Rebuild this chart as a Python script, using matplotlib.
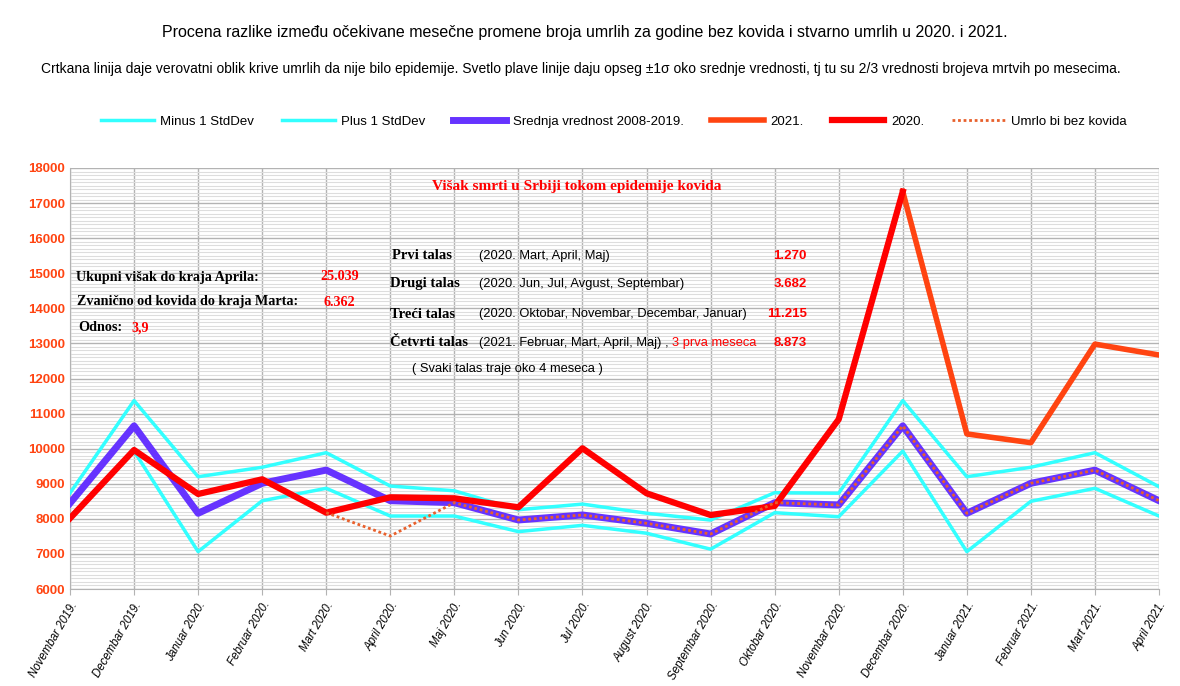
import numpy as np
import matplotlib.pyplot as plt
from matplotlib.ticker import MultipleLocator

# meseci
months = ['Novembar 2019.', 'Decembar 2019.', 'Januar 2020.', 'Februar 2020.',
          'Mart 2020.', 'April 2020.', 'Maj 2020.', 'Jun 2020.', 'Jul 2020.',
          'August 2020.', 'Septembar 2020.', 'Oktobar 2020.', 'Novembar 2020.',
          'Decembar 2020.', 'Januar 2021.', 'Februar 2021.', 'Mart 2021.', 'April 2021.']

minus1 = [8060, 9930, 7065, 8515, 8870, 8080, 8080, 7635, 7815, 7590, 7135, 8175,
          8060, 9930, 7065, 8500, 8870, 8080]
plus1 = [8735, 11370, 9200, 9470, 9885, 8935, 8800, 8260, 8420, 8160, 7965, 8745,
         8730, 11370, 9200, 9470, 9885, 8915]
mean = [8445, 10650, 8158, 9013, 9390, 8517, 8460, 7967, 8110, 7873, 7568, 8460,
        8395, 10650, 8158, 9013, 9388, 8517]
y2021 = [np.nan]*13 + [17326, 10420, 10170, 12980, 12670]
y2020 = [8015, 9962, 8708, 9127, 8175, 8614, 8585, 8329, 10011, 8728, 8109, 8366,
         10837, 17326] + [np.nan]*4
bez_kovida = [np.nan]*4 + [8175, 7510, 8460, 7967, 8110, 7873, 7568, 8460,
                           8395, 10650, 8158, 9013, 9388, 8517]

x = np.arange(len(months))

W, H = 1180, 686
fig = plt.figure(figsize=(W/100, H/100), dpi=100)
ax = fig.add_axes([70/W, 1-589/H, (1159-70)/W, (589-168)/H])

ax.plot(x, minus1, color='#33ffff', lw=2.5, label='Minus 1 StdDev', zorder=3)
ax.plot(x, plus1, color='#33ffff', lw=2.5, label='Plus 1 StdDev', zorder=3)
ax.plot(x, mean, color='#6633ff', lw=5, label='Srednja vrednost 2008-2019.', zorder=4)
ax.plot(x, y2021, color='#ff4411', lw=4, label='2021.', zorder=5)
ax.plot(x, y2020, color='#ff0000', lw=4.5, label='2020.', zorder=5)
ax.plot(x, bez_kovida, color='#e8602c', lw=2, ls=(0, (1, 1)),
        label='Umrlo bi bez kovida', zorder=6)

ax.set_xlim(0, 17)
ax.set_ylim(6000, 18000)
ax.yaxis.set_major_locator(MultipleLocator(1000))
ax.yaxis.set_minor_locator(MultipleLocator(100))
ax.grid(which='major', axis='y', color='#b3b3b3', lw=1, zorder=0)
ax.grid(which='minor', axis='y', color='#dddddd', lw=0.8, zorder=0)
ax.grid(which='major', axis='x', color='#b3b3b3', lw=1, zorder=0)
ax.set_axisbelow(True)
for s in ['top', 'right']:
    ax.spines[s].set_visible(False)
for s in ['left', 'bottom']:
    ax.spines[s].set_color('#b3b3b3')
ax.set_xticks(x)
ax.set_xticklabels(months, rotation=60, ha='right', rotation_mode='anchor',
                   fontstyle='italic', fontsize=8.3, family='Liberation Sans')
ax.tick_params(axis='x', length=4, color='#b3b3b3')
ax.tick_params(axis='y', which='both', length=0, labelcolor='#ff4411',
               labelsize=9.5)
for t in ax.get_yticklabels():
    t.set_fontweight('bold')
    t.set_family('Liberation Sans')

fig.legend(loc='center', bbox_to_anchor=(614/W, 1-122/H), ncol=6, frameon=False,
           handlelength=4.0, columnspacing=2.1, handletextpad=0.5,
           prop={'family': 'Liberation Sans', 'size': 9.5})

def px(xp, yp):
    return xp/W, 1-yp/H

# naslovi
fig.text(*px(585, 32), 'Procena razlike između očekivane mesečne promene broja umrlih za godine bez kovida i stvarno umrlih u 2020. i 2021.',
         ha='center', va='center', fontsize=11.5, family='Liberation Sans')
fig.text(*px(581, 69), 'Crtkana linija daje verovatni oblik krive umrlih da nije bilo epidemije. Svetlo plave linije daju opseg ±1σ oko srednje vrednosti, tj tu su 2/3 vrednosti brojeva mrtvih po mesecima.',
         ha='center', va='center', fontsize=10, family='Liberation Sans')

serif = dict(family='Liberation Serif', fontweight='bold', va='center')
sans = dict(family='Liberation Sans', va='center')

fig.text(*px(577, 186), 'Višak smrti u Srbiji tokom epidemije kovida', ha='center',
         color='#ff0000', fontsize=11, **serif)

fig.text(*px(76, 277), 'Ukupni višak do kraja Aprila:', fontsize=10.2, **serif)
fig.text(*px(320, 277), '25.039', color='#ff0000', fontsize=10.2, **serif)
fig.text(*px(77, 302), 'Zvanično od kovida do kraja Marta:', fontsize=10.2, **serif)
fig.text(*px(324, 302), '6.362', color='#ff0000', fontsize=10.2, **serif)
fig.text(*px(78, 328), 'Odnos:', fontsize=10.2, **serif)
fig.text(*px(131, 328), '3,9', color='#ff0000', fontsize=10.2, **serif)

talasi = ['Prvi talas', 'Drugi talas', 'Treći talas', 'Četvrti talas']
opisi = ['(2020. Mart, April, Maj)', '(2020. Jun, Jul, Avgust, Septembar)',
         '(2020. Oktobar, Novembar, Decembar, Januar)', '(2021. Februar, Mart, April, Maj) ,']
visak = ['1.270', '3.682', '11.215', '8.873']
ys = [256, 284, 314, 343]
tx = [392, 390, 390, 390]
for t, o, v, yy, xx in zip(talasi, opisi, visak, ys, tx):
    fig.text(*px(xx, yy), t, fontsize=10.5, **serif)
    fig.text(*px(479, yy), o, fontsize=9.3, **sans)
    fig.text(*px(807, yy), v, ha='right', color='#ff0000', fontsize=9.5,
             fontweight='bold', **sans)
fig.text(*px(672, 343), '3 prva meseca', color='#ff0000', fontsize=9.3, **sans)
fig.text(*px(412, 369), '( Svaki talas traje oko 4 meseca )', fontsize=9.3, **sans)

fig.savefig('out.png', dpi=100)
